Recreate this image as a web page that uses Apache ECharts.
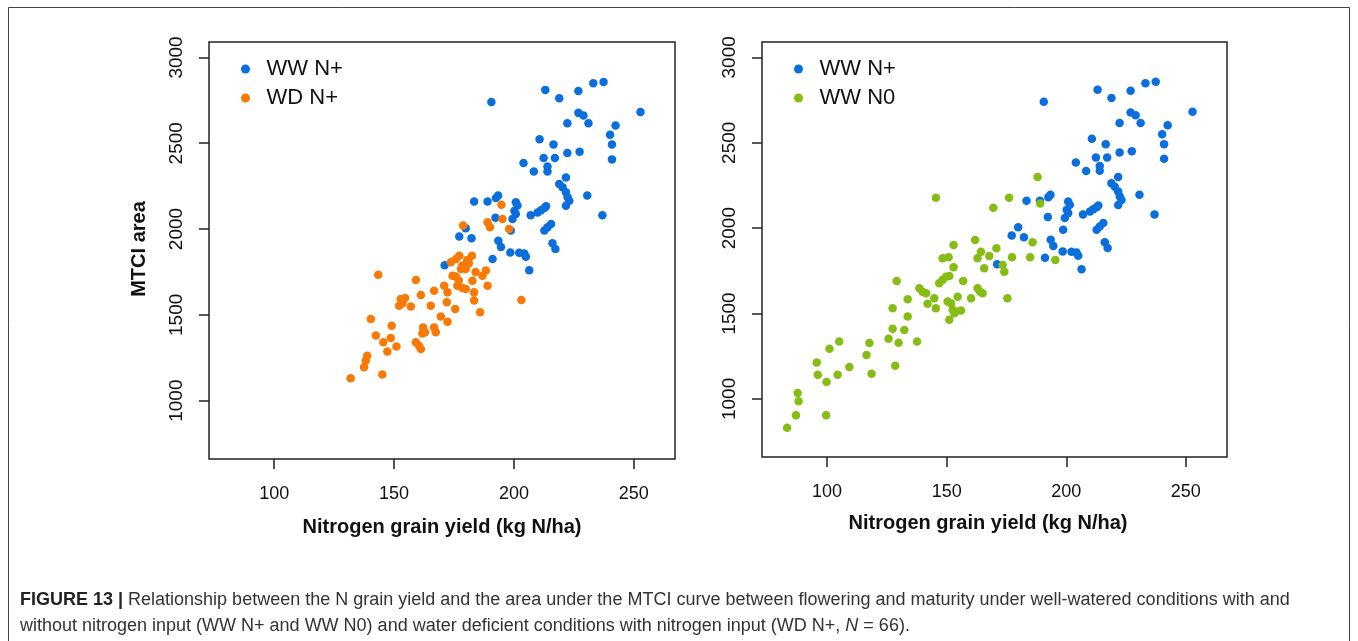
<!DOCTYPE html>
<html>
<head>
<meta charset="utf-8">
<script src="https://cdn.jsdelivr.net/npm/echarts@6/dist/echarts.min.js"></script>
<style>
html,body{margin:0;padding:0;background:#fff;}
#chart{width:1358px;height:641px;}
</style>
</head>
<body>
<div id="chart"></div>
<script>
// ---- Data ----
const xTicks = [100, 150, 200, 250];
const yTicks = [1000, 1500, 2000, 2500, 3000];

// WW N+ (same in both panels)
const wwNplus = [
  [190.6,2740],[213.1,2811],[218.9,2762],[226.9,2805],[233.1,2849],[237.4,2857],[252.8,2682],
  [226.9,2677],[229,2661],[222.3,2616],[231.1,2616],[242.4,2603],[240.1,2550],[240.9,2492],
  [240.9,2406],[210.7,2523],[216.5,2492],[222.3,2443],[227.4,2451],[212.4,2414],[217.1,2414],
  [204,2385],[208.3,2335],[214,2364],[214,2336],[221.7,2300],[218.9,2263],[220.3,2243],
  [221.7,2214],[222.4,2185],[223.1,2165],[221.7,2136],[230.6,2196],[236.9,2080],[183.4,2160],
  [189,2160],[193.4,2196],[192.5,2181],[200.8,2156],[201.5,2137],[200.2,2107],[200.8,2088],
  [199.4,2059],[192.3,2066],[207,2080],[209.9,2097],[211.3,2110],[212.7,2122],[213.4,2133],
  [212.7,1991],[214,2010],[215.5,2030],[216.1,1917],[217.3,1884],[198.7,1991],[193.5,1932],
  [194.6,1895],[198.5,1864],[202.2,1862],[204.3,1858],[205,1838],[191.1,1826],[206.4,1760],
  [177.2,1957],[182.3,1947],[179.9,2005],[171.1,1789]
];

// WD N+ (left panel)
const wdNplus = [
  [178.8,2020],[189,2039],[190,2010],[195.2,2059],[198,2000],[194.8,2142],[182.5,1845],
  [177.2,1845],[175.8,1826],[173.7,1806],[178.5,1787],[179.9,1767],[177.9,1767],[188.3,1758],
  [186.9,1728],[174.4,1728],[175.8,1723],[182.7,1699],[176.4,1670],[178.5,1657],[179.9,1651],
  [183.4,1631],[189,1670],[170.9,1670],[172.3,1631],[166.7,1641],[159.1,1703],[143.4,1733],
  [161.2,1616],[152.8,1593],[154.6,1598],[153.5,1567],[152.1,1553],[157,1548],[165.3,1553],
  [172,1573],[175.5,1534],[183.4,1583],[185.9,1515],[169.5,1490],[172.3,1460],[140.3,1476],
  [149,1437],[162.1,1427],[162.9,1398],[161.8,1392],[166.7,1427],[167.4,1398],[142.4,1379],
  [148.6,1365],[145.5,1340],[151,1316],[147.2,1287],[159.1,1340],[160.4,1320],[161.2,1301],
  [138.8,1262],[138.2,1233],[137.5,1194],[145.1,1152],[131.9,1130],[203.1,1587],
  [180.5,1820],[181.2,1800],[184,1750],[177,1700]
];

// WW N0 (right panel)
const wwN0 = [
  [83.3,831],[87,904],[87.7,1035],[88.1,986],[99.6,904],[99.8,1099],[96.1,1142],[95.7,1214],
  [101,1294],[105.1,1336],[104.4,1142],[109.3,1187],[117.7,1327],[116.5,1257],[118.6,1148],
  [128.5,1195],[125.7,1352],[129.9,1329],[127.4,1411],[132.3,1403],[137.6,1336],[133.7,1482],
  [127.4,1531],[133.7,1584],[129.1,1691],[138.6,1648],[139.9,1628],[141.4,1619],[142,1557],
  [144.8,1590],[145.5,1531],[146.9,1678],[148.3,1697],[149.7,1716],[151.1,1720],[148.3,1824],
  [150.8,1829],[152.9,1771],[156.9,1691],[151.1,1463],[150.4,1570],[151.8,1561],[154.6,1599],
  [152.5,1522],[153.9,1512],[156,1518],[153.2,1502],[160.2,1590],[162.9,1648],[164,1628],
  [165,1619],[165.7,1765],[162.9,1824],[164.3,1862],[167.8,1837],[173.4,1784],[174.1,1745],
  [175.4,1590],[184.9,1829],[195.4,1814],[188,2300],[145.5,2178],[176.1,2178],[169.5,2119],
  [189.1,2145],[161.9,1930],[152.9,1901],[185.9,1917],[170.8,1882],[177.3,1829]
];

// ---- Styling ----
const BLUE = '#0a6fdc', ORANGE = '#f87a05', GREEN = '#86bd14';
const FONT = 'Liberation Sans, Arial, sans-serif';

function xAx(gi) {
  return {
    gridIndex: gi, type: 'value', min: 72.8, max: 267.2,
    splitLine: {show: false},
    axisLine: {show: false},
    axisTick: {show: true, customValues: xTicks, length: 10, lineStyle: {color: '#222', width: 1.5}},
    axisLabel: {customValues: xTicks, margin: 26, fontSize: 18, color: '#111', fontFamily: FONT,
      formatter: v => String(v)}
  };
}
function yAx(gi) {
  return {
    gridIndex: gi, type: 'value', min: 660, max: 3090,
    splitLine: {show: false},
    axisLine: {show: false},
    axisTick: {show: true, customValues: yTicks, length: 10, lineStyle: {color: '#222', width: 1.5}},
    axisLabel: {customValues: yTicks, rotate: 90, margin: 23, fontSize: 19, color: '#111', fontFamily: FONT,
      formatter: v => String(v)}
  };
}
function legendCfg(left, names, colors) {
  return {
    left: left, top: 53, orient: 'vertical', icon: 'circle',
    itemWidth: 32, itemHeight: 9, itemGap: 7,
    data: names.map((n, i) => ({name: n, itemStyle: {color: colors[i]}})),
    textStyle: {fontSize: 22, lineHeight: 22, color: '#111', fontFamily: FONT},
    selectedMode: false
  };
}

const chart = echarts.init(document.getElementById('chart'), null, {renderer: 'canvas'});
chart.setOption({
  animation: false,
  backgroundColor: '#fff',
  grid: [
    {left: 209, top: 42, width: 466, height: 417, show: true, borderColor: '#222', borderWidth: 1.5, backgroundColor: 'transparent'},
    {left: 762, top: 42, width: 465, height: 415, show: true, borderColor: '#222', borderWidth: 1.5, backgroundColor: 'transparent'}
  ],
  xAxis: [xAx(0), xAx(1)],
  yAxis: [yAx(0), yAx(1)],
  legend: [
    legendCfg(236, ['WW N+', 'WD N+'], [BLUE, ORANGE]),
    legendCfg(789, ['WW N+', 'WW N0'], [BLUE, GREEN])
  ],
  series: [
    {name: 'WW N+', type: 'scatter', xAxisIndex: 0, yAxisIndex: 0, data: wwNplus, symbolSize: 8.5, itemStyle: {color: BLUE, opacity: 1}},
    {name: 'WD N+', type: 'scatter', xAxisIndex: 0, yAxisIndex: 0, data: wdNplus, symbolSize: 8.5, itemStyle: {color: ORANGE, opacity: 1}},
    {name: 'WW N+', type: 'scatter', xAxisIndex: 1, yAxisIndex: 1, data: wwNplus, symbolSize: 8.5, itemStyle: {color: BLUE, opacity: 1}},
    {name: 'WW N0', type: 'scatter', xAxisIndex: 1, yAxisIndex: 1, data: wwN0, symbolSize: 8.5, itemStyle: {color: GREEN, opacity: 1}}
  ],
  graphic: [
    {type: 'rect', shape: {x: 8.5, y: 7.5, width: 1341, height: 700}, style: {fill: 'none', stroke: '#444', lineWidth: 1}, silent: true, z: -1},
    {type: 'text', x: 139, y: 249, rotation: Math.PI / 2,
      style: {text: 'MTCI area', fontSize: 20, fontWeight: 'bold', fill: '#111', fontFamily: FONT, align: 'center', verticalAlign: 'middle'}},
    {type: 'text', x: 442, y: 527,
      style: {text: 'Nitrogen grain yield (kg N/ha)', fontSize: 20, fontWeight: 'bold', fill: '#111', fontFamily: FONT, align: 'center', verticalAlign: 'middle'}},
    {type: 'text', x: 988, y: 523,
      style: {text: 'Nitrogen grain yield (kg N/ha)', fontSize: 20, fontWeight: 'bold', fill: '#111', fontFamily: FONT, align: 'center', verticalAlign: 'middle'}},
    {type: 'text', x: 20, y: 600,
      style: {
        text: '{b|FIGURE 13 |} Relationship between the N grain yield and the area under the MTCI curve between flowering and maturity under well-watered conditions with and',
        rich: {b: {fontWeight: 'bold', fontSize: 18, fill: '#222', fontFamily: FONT}},
        fontSize: 18, fill: '#333', fontFamily: FONT, verticalAlign: 'middle'}},
    {type: 'text', x: 20, y: 626,
      style: {
        text: 'without nitrogen input (WW N+ and WW N0) and water deficient conditions with nitrogen input (WD N+, {i|N} = 66).',
        rich: {i: {fontStyle: 'italic', fontSize: 18, fill: '#333', fontFamily: FONT}},
        fontSize: 18, fill: '#333', fontFamily: FONT, verticalAlign: 'middle'}}
  ]
});
</script>
</body>
</html>
